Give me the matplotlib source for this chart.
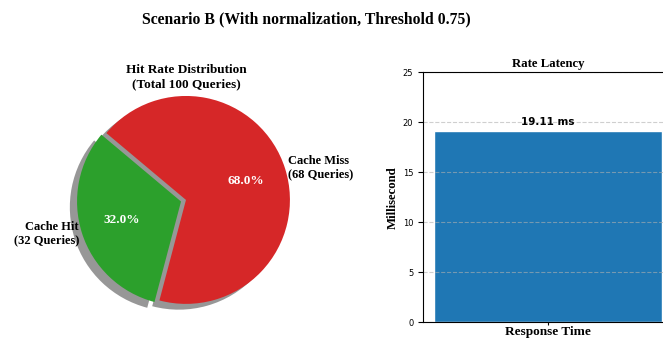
import matplotlib
matplotlib.use("Agg")
import matplotlib.pyplot as plt

# Cache results for scenario B
hit_labels = ["Cache Hit", "Cache Miss"]
hit_counts = [32, 68]
total_queries = 100

# Latency
latency_labels = ["Response Time"]
latency_values = [19.11]

SERIF = ["Liberation Serif", "DejaVu Serif"]

fig = plt.figure(figsize=(6.63, 3.38), dpi=100)

fig.suptitle("Scenario B (With normalization, Threshold 0.75)",
             x=0.462, y=0.965, fontsize=11.3, fontweight="bold", family=SERIF)

# Pie chart of hits vs misses
ax1 = fig.add_axes([0.0845, 0.024, 0.392, 0.769])
labels = [f"{n}\n({c} Queries)" for n, c in zip(hit_labels, hit_counts)]
wedges, texts, autotexts = ax1.pie(
    hit_counts, labels=labels, autopct="%1.1f%%", startangle=140,
    colors=["#2ca02c", "#d62728"], explode=(0.05, 0), labeldistance=1.03,
    shadow={"ox": -0.05, "oy": -0.04, "facecolor": "#8c8c8c",
            "edgecolor": "none", "alpha": 0.9},
    textprops={"family": SERIF, "fontsize": 9, "fontweight": "bold"},
)
for t in autotexts:
    t.set_color("white")
    t.set_fontsize(9.5)
ax1.set_title(f"Hit Rate Distribution\n(Total {total_queries} Queries)",
              y=0.903, fontsize=9.5, fontweight="bold", family=SERIF)

# Bar chart of latency
ax2 = fig.add_axes([0.638, 0.047, 0.377, 0.739])
bars = ax2.bar(latency_labels, latency_values, color="#1f77b4", edgecolor="white")
ax2.set_ylim(0, 25)
ax2.grid(axis="y", linestyle="--", alpha=0.6)
ax2.set_title("Rate Latency", fontsize=9.2, fontweight="bold", family=SERIF, pad=4)
ax2.set_ylabel("Millisecond", fontsize=9.2, fontweight="bold", family=SERIF, labelpad=3)
ax2.tick_params(axis="y", labelsize=6)
ax2.tick_params(axis="x", labelsize=9.5, length=2, pad=1)
for lbl in ax2.get_xticklabels():
    lbl.set_family(SERIF)
    lbl.set_fontweight("bold")
for b, v in zip(bars, latency_values):
    ax2.text(b.get_x() + b.get_width() / 2, v + 0.4, f"{v:.2f} ms",
             ha="center", va="bottom", fontsize=7.5, fontweight="bold")

fig.savefig("out.png", dpi=100)
